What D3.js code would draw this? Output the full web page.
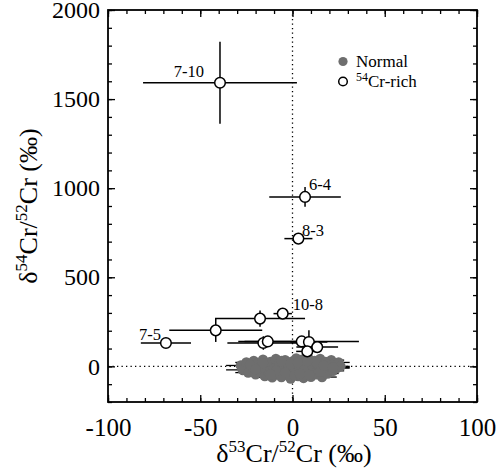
<!DOCTYPE html>
<html>
<head>
<meta charset="utf-8">
<script src="https://cdn.jsdelivr.net/npm/d3@7"></script>
<style>
  body { margin: 0; background: #fff; }
  svg text { font-family: "Liberation Serif", "Times New Roman", serif; fill: #000; }
</style>
</head>
<body>
<div class="chart"></div>
<script>
// 54Cr-rich grains (open circles)
var richLabel = ["7-10", "6-4", "8-3", "10-8", "", "7-5", "", "", "", "", "", "", ""];
var richX     = [-39.3, 6.8, 3.2, -5.3, -17.6, -68.6, -41.6, -15.8, -13.4, 5, 8.9, 13.4, 8];
var richY     = [1592, 951, 717, 296, 268, 131, 202, 131, 140, 140, 137, 108, 84];
var richXErr  = [41.7, 19.4, 7.6, 5, 24.4, 13.6, 25.2, 19.5, 16, 31, 10, 11.3, 6];
var richYErr  = [230, 55, 20, 15, 45, 10, 65, 38, 15, 20, 66, 15, 25];

// normal grains (grey dots)
var normX = [-28, -27, -25, -24, -22, -21, -20, -19, -18, -16, -15, -14, -13, -12, -11, -10, -9, -8, -7, -6,
             -5, -4, -3, -2, -1, 0, 1, 2, 3, 4, 5, 6, 7, 8, 9, 10, 11, 12, 13, 14,
             15, 16, 17, 18, 19, 20, 21, 22, 23, 24, 25, 26, -23, -17, -9, -6, -1, 3, 6, 11,
             15, 19, -12, 1, 9, -4, 13, -16, 4, 17, -20, 8, 22];
var normY = [5, -20, 22, -35, 0, 30, -45, 15, -22, 38, -55, 5, -30, 25, -62, -10, 42, -40, 15, -60,
             -18, 35, -48, 5, -68, 28, -30, 45, -55, -5, 38, -65, 12, -35, 40, -58, -12, 30, -45, 8,
             42, -60, -20, 25, -40, 0, 35, -25, 15, -10, 22, 0, 10, -8, -25, 30, 12, 20, -20, 15,
             -30, 10, -45, -50, -48, -35, 20, 18, -42, 5, -15, 28, -5];
var normErr = [8, 9, 6, 7, 5, 6, 8, 7, 6, 5, 7, 9, 6, 5, 8, 6, 5, 7, 6, 8,
               5, 6, 7, 8, 6, 5, 7, 6, 8, 5, 6, 7, 8, 6, 5, 7, 8, 6, 5, 7,
               6, 8, 7, 5, 6, 8, 7, 6, 5, 7, 6, 5, 6, 9, 8, 7, 5, 6, 7, 8,
               6, 7, 5, 6, 8, 7, 6, 5, 7, 6, 8, 5, 9];

// axis ticks
var xMajor = [-100, -50, 0, 50, 100];
var xMinor = d3.range(-100, 101, 10);
var yMajor = [0, 500, 1000, 1500, 2000];
var yMinor = d3.range(-200, 2001, 100);

var legendItems = ["Normal", "Cr-rich"];

var W = 496, H = 474;
var pLeft = 108, pRight = 477, pTop = 10, pBottom = 402;

var svg = d3.select(".chart").append("svg")
  .attr("width", W)
  .attr("height", H);

var x = d3.scaleLinear().domain([-100, 100]).range([pLeft, pRight]);
var y = d3.scaleLinear().domain([-200, 2000]).range([pBottom, pTop]);

// zero lines
svg.append("line")
  .attr("x1", x(0)).attr("x2", x(0))
  .attr("y1", pTop).attr("y2", pBottom)
  .attr("stroke", "#000").attr("stroke-width", 1.3)
  .attr("stroke-dasharray", "1.3,3.2");
svg.append("line")
  .attr("x1", pLeft).attr("x2", pRight)
  .attr("y1", y(0)).attr("y2", y(0))
  .attr("stroke", "#000").attr("stroke-width", 1.3)
  .attr("stroke-dasharray", "1.3,3.2");

// axes with inward ticks
function clean(g) { g.select(".domain").remove(); g.selectAll("line").attr("stroke", "#000").attr("stroke-width", 1.3); }

svg.append("g").attr("transform", "translate(0," + pBottom + ")")
  .call(d3.axisBottom(x).tickValues(xMinor).tickSize(-4).tickFormat(""))
  .call(clean);
svg.append("g").attr("transform", "translate(0," + pBottom + ")")
  .call(d3.axisBottom(x).tickValues(xMajor).tickSize(-7).tickPadding(16).tickFormat(d => String(d)))
  .call(clean)
  .selectAll("text").attr("font-size", 25).attr("font-family", "Liberation Serif");
svg.append("g").attr("transform", "translate(0," + pTop + ")")
  .call(d3.axisTop(x).tickValues(xMinor).tickSize(-4).tickFormat(""))
  .call(clean);
svg.append("g").attr("transform", "translate(0," + pTop + ")")
  .call(d3.axisTop(x).tickValues(xMajor).tickSize(-7).tickFormat(""))
  .call(clean);

svg.append("g").attr("transform", "translate(" + pLeft + ",0)")
  .call(d3.axisLeft(y).tickValues(yMinor).tickSize(-4).tickFormat(""))
  .call(clean);
svg.append("g").attr("transform", "translate(" + pLeft + ",0)")
  .call(d3.axisLeft(y).tickValues(yMajor).tickSize(-7).tickPadding(8).tickFormat(d => String(d)))
  .call(clean)
  .selectAll("text").attr("font-size", 24).attr("font-family", "Liberation Serif");
svg.append("g").attr("transform", "translate(" + pRight + ",0)")
  .call(d3.axisRight(y).tickValues(yMinor).tickSize(-4).tickFormat(""))
  .call(clean);
svg.append("g").attr("transform", "translate(" + pRight + ",0)")
  .call(d3.axisRight(y).tickValues(yMajor).tickSize(-7).tickFormat(""))
  .call(clean);

// frame
svg.append("rect")
  .attr("x", pLeft).attr("y", pTop)
  .attr("width", pRight - pLeft).attr("height", pBottom - pTop)
  .attr("fill", "none").attr("stroke", "#000").attr("stroke-width", 1.8);

// normal: error bars then dots
var normal = normX.map((d, i) => ({x: d, y: normY[i], e: normErr[i]}));
svg.append("g").selectAll("line")
  .data(normal).enter().append("line")
  .attr("x1", d => x(d.x - d.e)).attr("x2", d => x(d.x + d.e))
  .attr("y1", d => y(d.y)).attr("y2", d => y(d.y))
  .attr("stroke", "#000").attr("stroke-width", 1.3);
svg.append("g").selectAll("circle")
  .data(normal).enter().append("circle")
  .attr("cx", d => x(d.x)).attr("cy", d => y(d.y))
  .attr("r", 5.2)
  .attr("fill", "#6e6e6e");

// rich: error bars, circles, labels
var rich = richX.map((d, i) => ({x: d, y: richY[i], ex: richXErr[i], ey: richYErr[i], name: richLabel[i]}));
var eb = svg.append("g").attr("stroke", "#000").attr("stroke-width", 1.5);
eb.selectAll(".ex").data(rich).enter().append("line")
  .attr("x1", d => x(d.x - d.ex)).attr("x2", d => x(d.x + d.ex))
  .attr("y1", d => y(d.y)).attr("y2", d => y(d.y));
eb.selectAll(".ey").data(rich).enter().append("line")
  .attr("x1", d => x(d.x)).attr("x2", d => x(d.x))
  .attr("y1", d => y(d.y - d.ey)).attr("y2", d => y(d.y + d.ey));
svg.append("g").selectAll("circle")
  .data(rich).enter().append("circle")
  .attr("cx", d => x(d.x)).attr("cy", d => y(d.y))
  .attr("r", 5.3)
  .attr("fill", "#fff").attr("stroke", "#000").attr("stroke-width", 1.5);

// label placement next to each marked grain
var labelPos = {
  "7-10": [-16, -6, "end"],
  "6-4": [4, -7, "start"],
  "8-3": [3.5, -3, "start"],
  "10-8": [10, -4, "start"],
  "7-5": [-5, -3, "end"]
};
svg.append("g").selectAll("text")
  .data(rich.filter(d => d.name)).enter().append("text")
  .attr("x", d => x(d.x) + labelPos[d.name][0])
  .attr("y", d => y(d.y) + labelPos[d.name][1])
  .attr("text-anchor", d => labelPos[d.name][2])
  .attr("font-size", 16.5)
  .text(d => d.name);

// legend
var lg = svg.append("g");
lg.append("circle").attr("cx", 343).attr("cy", 61.5).attr("r", 4.6).attr("fill", "#6e6e6e");
lg.append("text").attr("x", 356).attr("y", 67).attr("font-size", 17).text(legendItems[0]);
lg.append("circle").attr("cx", 343).attr("cy", 81.5).attr("r", 4.3)
  .attr("fill", "#fff").attr("stroke", "#000").attr("stroke-width", 1.5);
var t2 = lg.append("text").attr("x", 356).attr("y", 87).attr("font-size", 17);
t2.append("tspan").attr("font-size", 12).attr("dy", -6).text("54");
t2.append("tspan").attr("dy", 6).text(legendItems[1]);

// axis titles
var xt = svg.append("text").attr("x", 294).attr("y", 462)
  .attr("text-anchor", "middle").attr("font-size", 26);
xt.append("tspan").text("δ");
xt.append("tspan").attr("font-size", 17).attr("dy", -10).text("53");
xt.append("tspan").attr("dy", 10).text("Cr/");
xt.append("tspan").attr("font-size", 17).attr("dy", -10).text("52");
xt.append("tspan").attr("dy", 10).text("Cr (‰)");

var yt = svg.append("text")
  .attr("transform", "translate(37," + 206 + ") rotate(-90)")
  .attr("text-anchor", "middle").attr("font-size", 26);
yt.append("tspan").text("δ");
yt.append("tspan").attr("font-size", 17).attr("dy", -10).text("54");
yt.append("tspan").attr("dy", 10).text("Cr/");
yt.append("tspan").attr("font-size", 17).attr("dy", -10).text("52");
yt.append("tspan").attr("dy", 10).text("Cr (‰)");
</script>
</body>
</html>
